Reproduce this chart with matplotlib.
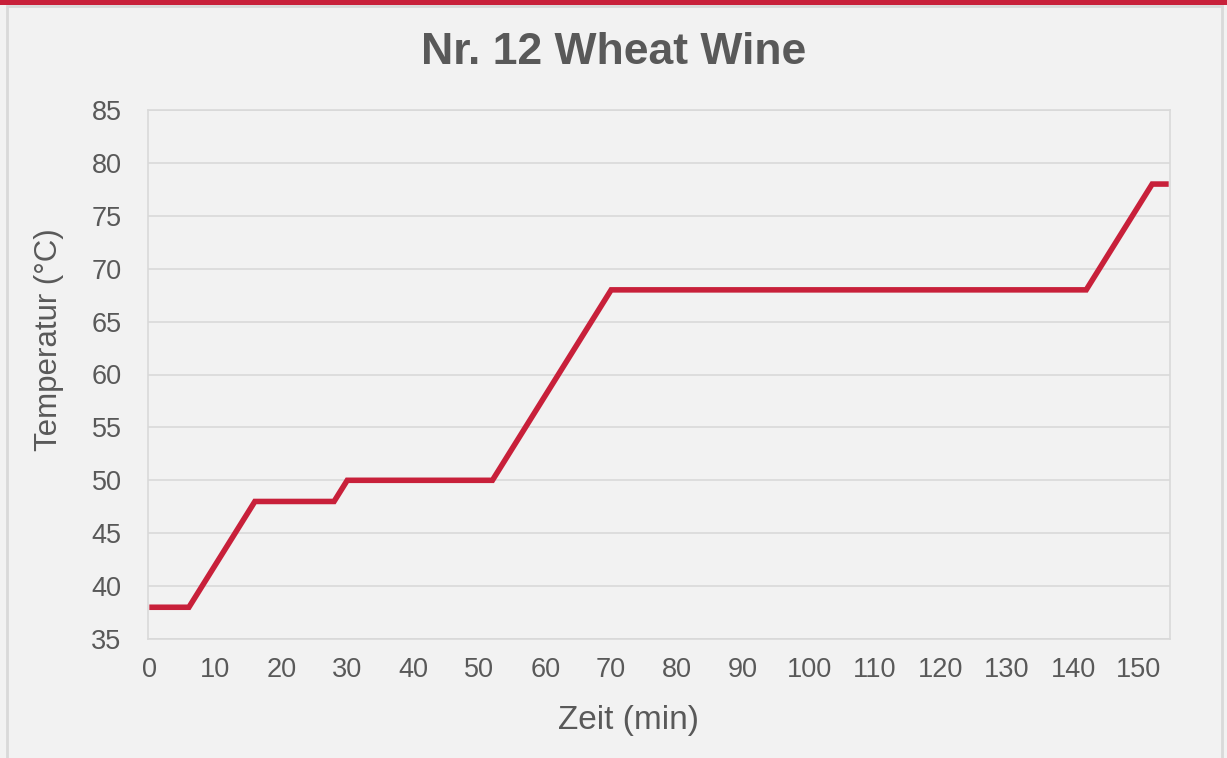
import matplotlib.pyplot as plt
from matplotlib.patches import Rectangle

# Maischeplan
zeit = [0, 6, 16, 28, 30, 52, 70, 142, 152, 154.5]
temperatur = [38, 38, 48, 48, 50, 50, 68, 68, 78, 78]
x_ticks = list(range(0, 151, 10))
y_ticks = list(range(35, 86, 5))

red = "#c8203a"
grey_text = "#595959"
grid_col = "#d9d9d9"

plt.rcParams['font.family'] = ['Liberation Sans', 'DejaVu Sans']

fig = plt.figure(figsize=(12.27, 7.58), dpi=100)
fig.patch.set_facecolor("#f2f2f2")

W, H = 1227, 758
# outer card border + red top bar
fig.patches.append(Rectangle((7 / W, -0.05), (1222 - 7) / W, 1.05 - 6 / H,
                             transform=fig.transFigure, facecolor="none",
                             edgecolor=grid_col, linewidth=2))
fig.patches.append(Rectangle((0, 1 - 4.5 / H), 1, 4.5 / H,
                             transform=fig.transFigure, facecolor=red,
                             edgecolor="none"))

ax = fig.add_axes([148 / W, 1 - 639 / H, (1170 - 148) / W, (639 - 110) / H])
ax.set_facecolor("#f2f2f2")
ax.plot(zeit, temperatur, color=red, linewidth=4, solid_joinstyle="miter",
        solid_capstyle="butt")

ax.set_xlim(-0.2, 154.7)
ax.set_ylim(35, 85)
ax.set_xticks(x_ticks)
ax.set_yticks(y_ticks)
ax.grid(axis="y", color=grid_col, linewidth=1.2)
ax.set_axisbelow(True)
for s in ax.spines.values():
    s.set_color(grid_col)
    s.set_linewidth(1.2)
ax.tick_params(length=0, labelsize=19.5, colors=grey_text)
ax.tick_params(axis="x", pad=13)
ax.tick_params(axis="y", pad=19)

ax.set_xlabel("Zeit (min)", fontsize=24, color=grey_text, labelpad=16)
ax.set_ylabel("Temperatur (°C)", fontsize=22.5, color=grey_text, labelpad=20)
# axis titles sit off-centre like in the original (centred on the chart area)
ax.xaxis.label.set_x(0.4706)
ax.yaxis.label.set_y(0.565)
fig.text(614 / W, 1 - 52 / H, "Nr. 12 Wheat Wine", ha="center", va="center",
         fontsize=32, fontweight="bold", color=grey_text)

fig.savefig("out.png", dpi=100, facecolor=fig.get_facecolor())
